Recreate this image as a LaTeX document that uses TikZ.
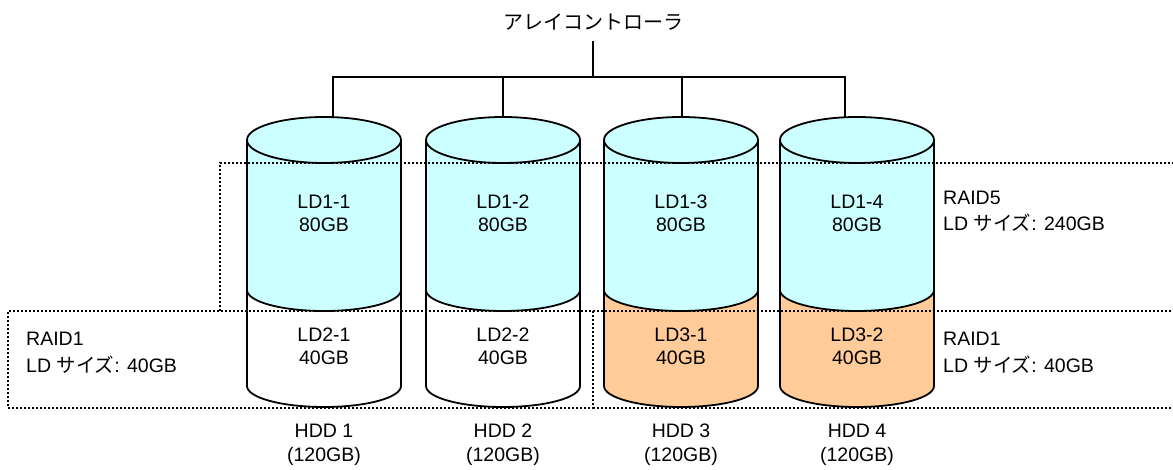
\documentclass[tikz,border=0pt]{standalone}
\usepackage{fontspec}
\setmainfont{Liberation Sans}
\newfontfamily\jpfont{Noto Sans CJK JP}
\usetikzlibrary{positioning}
\definecolor{raidCyan}{HTML}{CCFFFF}
\definecolor{raidOrange}{HTML}{FFCC99}
\tikzset{
  raid disk outline/.style={draw=black, line width=1.8pt, line join=round},
  raid bus/.style={draw=black, line width=1.4pt},
  raid group frame/.style={
    draw=black,
    line width=1.6pt,
    dash pattern=on 1.6pt off 2.4pt
  },
  raid disk label/.style={
    align=center,
    inner sep=0pt,
    anchor=base,
    font=\fontsize{19.5}{23.4}\selectfont
  },
  raid group label/.style={
    align=left,
    inner sep=0pt,
    anchor=base west,
    font=\fontsize{19.5}{26.7}\selectfont
  }
}
% #1 name of the top coordinate, #2 left edge, #3 upper fill, #4 lower fill
\newcommand{\raidDisk}[4]{%
  \path[fill=#3] (#2,140) -- (#2,290)
    arc[start angle=180,end angle=0,x radius=77,y radius=21]
    -- ({#2+154},140)
    arc[start angle=0,end angle=180,x radius=77,y radius=23] -- cycle;%
  \path[fill=#3] ({#2+77},140) ellipse[x radius=77,y radius=23];%
  \path[fill=#4] (#2,290) -- (#2,386)
    arc[start angle=180,end angle=0,x radius=77,y radius=21]
    -- ({#2+154},290)
    arc[start angle=0,end angle=180,x radius=77,y radius=21] -- cycle;%
  \draw[raid disk outline] ({#2+77},140) ellipse[x radius=77,y radius=23];%
  \draw[raid disk outline] (#2,140) -- (#2,386)
    arc[start angle=180,end angle=0,x radius=77,y radius=21]
    -- ({#2+154},140);%
  \draw[raid disk outline] (#2,290)
    arc[start angle=180,end angle=0,x radius=77,y radius=21];%
  \coordinate (#1) at ({#2+77},117);%
}

\begin{document}
\begin{tikzpicture}[x=1pt,y=-1pt]
  \useasboundingbox (0,0) rectangle (1173,470);

  \raidDisk{disk1}{247}{raidCyan}{white}
  \raidDisk{disk2}{426}{raidCyan}{white}
  \raidDisk{disk3}{604}{raidCyan}{raidOrange}
  \raidDisk{disk4}{780}{raidCyan}{raidOrange}

  % controller and bus
  \node[inner sep=0pt,font=\jpfont\fontsize{20}{24}\selectfont] (ctrl) at (593,22)
    {アレイコントローラ};
  \coordinate (bus) at (593,77);
  \coordinate (tap1) at (333,117);
  \coordinate (tap4) at (845,117);
  \draw[raid bus] ([yshift=-11pt]ctrl.south) -- (bus);
  \draw[raid bus] (tap1) |- (bus) -| (tap4);
  \draw[raid bus] (disk2) -- (disk2 |- bus);
  \draw[raid bus] ([xshift=1pt]disk3) -- ([xshift=1pt]disk3 |- bus);

  % group frames
  \draw[raid group frame] (220,311) -- (220,163) -- (1173,163);
  \draw[raid group frame] (593,311) rectangle (8,408);
  \draw[raid group frame] (593,311) -- (1173,311);
  \draw[raid group frame] (593,408) -- (1173,408);

  % logical drives
  \node[raid disk label] (ld11) at (324,232) {LD1-1\\80GB};
  \node[raid disk label] (ld12) at (503,232) {LD1-2\\80GB};
  \node[raid disk label] (ld13) at (681,232) {LD1-3\\80GB};
  \node[raid disk label] (ld14) at (857,232) {LD1-4\\80GB};

  \node[raid disk label] (ld21) at (324,365) {LD2-1\\40GB};
  \node[raid disk label] (ld22) at (503,365) {LD2-2\\40GB};
  \node[raid disk label] (ld31) at (681,365) {LD3-1\\40GB};
  \node[raid disk label] (ld32) at (857,365) {LD3-2\\40GB};

  \node[raid disk label] (hdd1) at (324,461) {HDD 1\\(120GB)};
  \node[raid disk label] (hdd2) at (503,461) {HDD 2\\(120GB)};
  \node[raid disk label] (hdd3) at (681,461) {HDD 3\\(120GB)};
  \node[raid disk label] (hdd4) at (857,461) {HDD 4\\(120GB)};

  \node[raid group label] (raid5) at (943,231) {RAID5\\LD {\jpfont サイズ}: 240GB};
  \node[raid group label] (raid1r) at (943,372) {RAID1\\LD {\jpfont サイズ}: 40GB};
  \node[raid group label] (raid1l) at (26,372) {RAID1\\LD {\jpfont サイズ}: 40GB};
\end{tikzpicture}
\end{document}
